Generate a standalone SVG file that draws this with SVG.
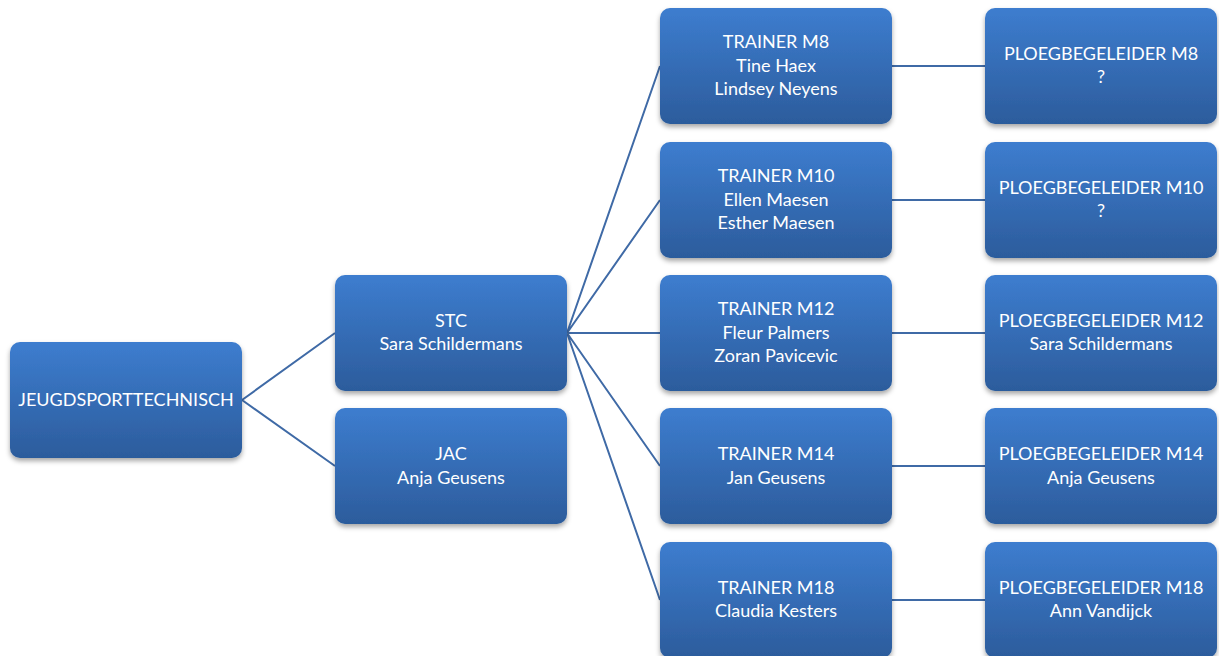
<svg xmlns="http://www.w3.org/2000/svg" width="1219" height="656" viewBox="0 0 1219 656">
<defs>
<linearGradient id="g" x1="0" y1="0" x2="0" y2="1">
<stop offset="0" stop-color="#3d7dcf"/>
<stop offset="1" stop-color="#2c5c9c"/>
</linearGradient>
<filter id="sh" x="-10%" y="-10%" width="120%" height="130%">
<feDropShadow dx="0" dy="3" stdDeviation="2.5" flood-color="#000" flood-opacity="0.35"/>
</filter>
</defs>
<style>
.box{fill:url(#g);filter:url(#sh)}
text{font-family:Lato,"Liberation Sans",Arial,sans-serif;font-size:18px;fill:#ffffff;text-anchor:middle}
.c{stroke:#3f6aa6;stroke-width:2;fill:none}
</style>
<rect width="1219" height="656" fill="#ffffff"/>
<g id="connectors">
<path class="c" d="M242 400 L335 333 M242 400 L335 466"/>
<path class="c" d="M567 333 L660 66 M567 333 L660 200 M567 333 L660 333 M567 333 L660 466 M567 333 L660 600"/>
<path class="c" d="M892 66 L985 66 M892 200 L985 200 M892 333 L985 333 M892 466 L985 466 M892 600 L985 600"/>
</g>
<g id="root">
<rect class="box" x="10" y="342" width="232" height="116" rx="10"/>
<text x="126" y="406">JEUGDSPORTTECHNISCH</text>
</g>
<g id="stc">
<rect class="box" x="335" y="275" width="232" height="116" rx="10"/>
<text x="451" y="327">STC</text>
<text x="451" y="350">Sara Schildermans</text>
</g>
<g id="jac">
<rect class="box" x="335" y="408" width="232" height="116" rx="10"/>
<text x="451" y="460">JAC</text>
<text x="451" y="484">Anja Geusens</text>
</g>
<g id="trainer-m8">
<rect class="box" x="660" y="8" width="232" height="116" rx="10"/>
<text x="776" y="48">TRAINER M8</text>
<text x="776" y="72">Tine Haex</text>
<text x="776" y="95">Lindsey Neyens</text>
</g>
<g id="trainer-m10">
<rect class="box" x="660" y="142" width="232" height="116" rx="10"/>
<text x="776" y="182">TRAINER M10</text>
<text x="776" y="206">Ellen Maesen</text>
<text x="776" y="229">Esther Maesen</text>
</g>
<g id="trainer-m12">
<rect class="box" x="660" y="275" width="232" height="116" rx="10"/>
<text x="776" y="315">TRAINER M12</text>
<text x="776" y="339">Fleur Palmers</text>
<text x="776" y="362">Zoran Pavicevic</text>
</g>
<g id="trainer-m14">
<rect class="box" x="660" y="408" width="232" height="116" rx="10"/>
<text x="776" y="460">TRAINER M14</text>
<text x="776" y="484">Jan Geusens</text>
</g>
<g id="trainer-m18">
<rect class="box" x="660" y="542" width="232" height="116" rx="10"/>
<text x="776" y="594">TRAINER M18</text>
<text x="776" y="617">Claudia Kesters</text>
</g>
<g id="ploeg-m8">
<rect class="box" x="985" y="8" width="232" height="116" rx="10"/>
<text x="1101" y="60">PLOEGBEGELEIDER M8</text>
<text x="1101" y="83">?</text>
</g>
<g id="ploeg-m10">
<rect class="box" x="985" y="142" width="232" height="116" rx="10"/>
<text x="1101" y="194">PLOEGBEGELEIDER M10</text>
<text x="1101" y="217">?</text>
</g>
<g id="ploeg-m12">
<rect class="box" x="985" y="275" width="232" height="116" rx="10"/>
<text x="1101" y="327">PLOEGBEGELEIDER M12</text>
<text x="1101" y="350">Sara Schildermans</text>
</g>
<g id="ploeg-m14">
<rect class="box" x="985" y="408" width="232" height="116" rx="10"/>
<text x="1101" y="460">PLOEGBEGELEIDER M14</text>
<text x="1101" y="484">Anja Geusens</text>
</g>
<g id="ploeg-m18">
<rect class="box" x="985" y="542" width="232" height="116" rx="10"/>
<text x="1101" y="594">PLOEGBEGELEIDER M18</text>
<text x="1101" y="617">Ann Vandijck</text>
</g>
</svg>
